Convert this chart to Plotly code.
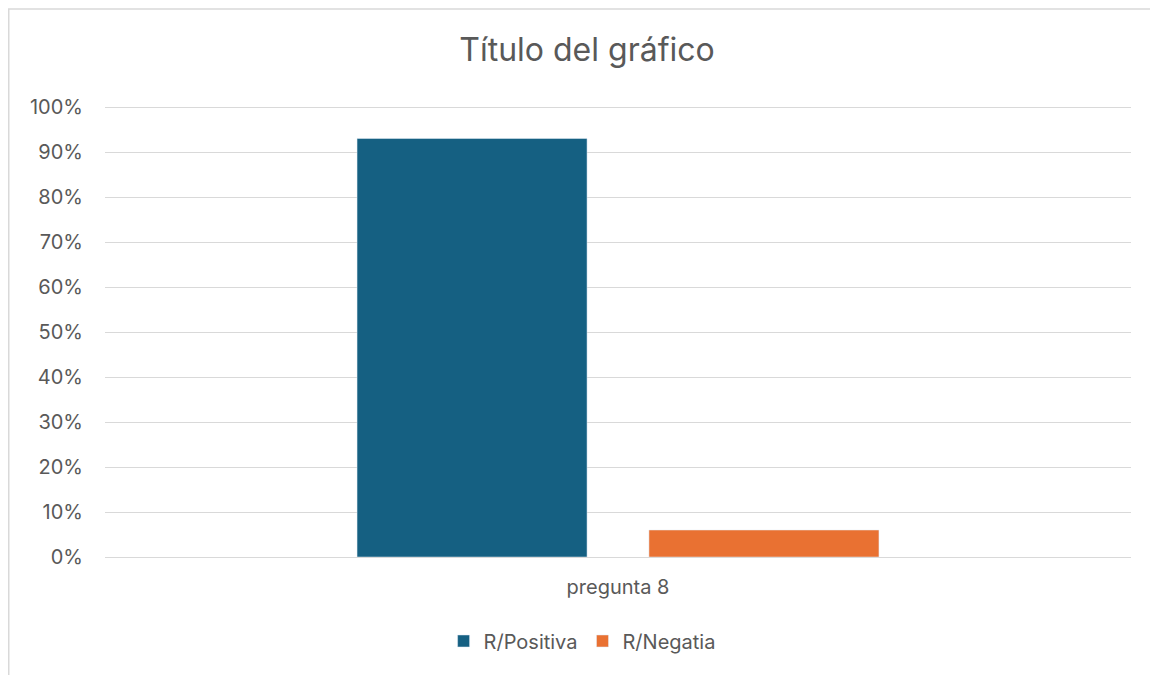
import plotly.graph_objects as go

categories = ["pregunta 8"]
series_names = ["R/Positiva", "R/Negatia"]
positiva = [0.93]
negativa = [0.06]
tick_vals = [0, 0.1, 0.2, 0.3, 0.4, 0.5, 0.6, 0.7, 0.8, 0.9, 1.0]
tick_text = ["0%", "10%", "20%", "30%", "40%", "50%", "60%", "70%", "80%", "90%", "100%"]

FONT = "Inter, Open Sans, sans-serif"
GREY = "#595959"

fig = go.Figure()
fig.add_trace(go.Bar(x=categories, y=positiva, name=series_names[0], marker_color="#156082"))
fig.add_trace(go.Bar(x=categories, y=negativa, name=series_names[1], marker_color="#E97132"))

fig.update_layout(
    width=1158, height=675,
    paper_bgcolor="white", plot_bgcolor="white",
    margin=dict(l=97, r=35, t=95, b=126),
    barmode="group", bargap=0.431, bargroupgap=0.212,
    title=dict(text="Título del gráfico", x=0.5, xanchor="center", y=0.938, yanchor="middle",
               font=dict(family=FONT, size=32, color=GREY)),
    font=dict(family=FONT, size=20, color=GREY),
    legend=dict(orientation="h", x=0.465, xanchor="center", y=-0.185, yanchor="middle",
                font=dict(family=FONT, size=20, color=GREY), itemwidth=30, traceorder="normal"),
    xaxis=dict(showgrid=False, showline=False, ticks="", ticklabelstandoff=16,
               tickfont=dict(size=20, color=GREY)),
    yaxis=dict(range=[0, 454 / 450], tickvals=tick_vals, ticktext=tick_text, showgrid=True,
               gridcolor="#d9d9d9", gridwidth=1, zeroline=True, zerolinecolor="#d9d9d9",
               zerolinewidth=1, showline=False, ticks="", ticklabelstandoff=21,
               tickfont=dict(size=20, color=GREY)),
    shapes=[dict(type="rect", xref="paper", yref="paper", x0=-0.0938, x1=1.2, y0=-0.5, y1=1.207,
                 line=dict(color="#d9d9d9", width=1.5), fillcolor="rgba(0,0,0,0)", layer="below")],
)

fig.write_html("out.html")
